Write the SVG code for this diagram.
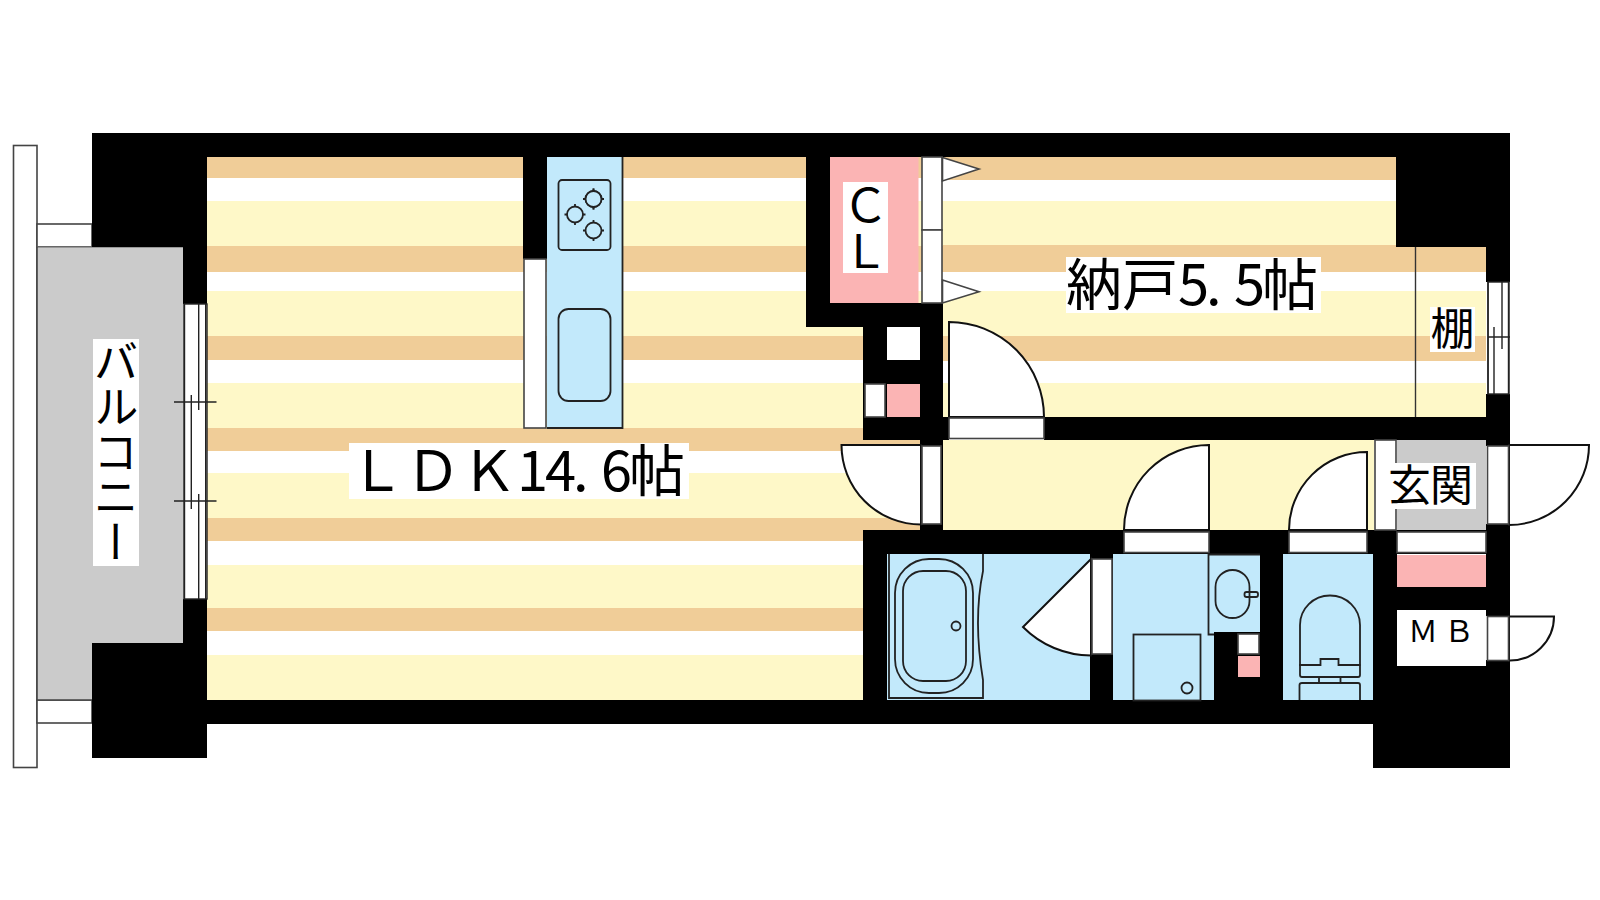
<svg xmlns="http://www.w3.org/2000/svg" width="1600" height="900" viewBox="0 0 1600 900">
<style>
.o{fill:#f0cd98}.y{fill:#fef8c8}.b{fill:#c2e9fb}.p{fill:#fbb4b4}.g{fill:#cbcbcb}.k{fill:#000}.w{fill:#fff}
.f{fill:#fff;stroke:#444;stroke-width:1.6}
.d{fill:#fff;stroke:#111;stroke-width:2}
.l{fill:none;stroke:#222;stroke-width:1.8}
.h{fill:none;stroke:#222;stroke-width:1.4}
text{font-family:"Noto Sans CJK JP","Noto Sans",sans-serif;fill:#000}
.v{writing-mode:vertical-rl}
</style>
<rect width="1600" height="900" fill="#fff"/>

<g id="floor-ldk">
<rect class="o" x="207" y="157" width="736" height="21"/>
<rect class="y" x="207" y="201" width="736" height="45"/>
<rect class="o" x="207" y="246" width="736" height="26"/>
<rect class="y" x="207" y="291" width="736" height="45"/>
<rect class="o" x="207" y="336" width="736" height="24"/>
<rect class="y" x="207" y="383" width="736" height="45"/>
<rect class="o" x="207" y="428" width="736" height="23"/>
<rect class="y" x="207" y="473" width="736" height="45"/>
<rect class="o" x="207" y="518" width="736" height="23"/>
<rect class="y" x="207" y="565" width="736" height="43"/>
<rect class="o" x="207" y="608" width="736" height="23"/>
<rect class="y" x="207" y="655" width="736" height="45"/>
</g>
<g id="floor-storage">
<rect class="w" x="943" y="157" width="543" height="260"/>
<rect class="o" x="943" y="157" width="543" height="23"/>
<rect class="y" x="943" y="201" width="543" height="44"/>
<rect class="o" x="943" y="245" width="543" height="27"/>
<rect class="y" x="943" y="291" width="543" height="45"/>
<rect class="o" x="943" y="336" width="543" height="25"/>
<rect class="y" x="943" y="383" width="543" height="34"/>
<line x1="1415.5" y1="247" x2="1415.5" y2="417" stroke="#333" stroke-width="1.4"/>
</g>
<g id="floor-hall">
<rect class="y" x="943" y="440" width="431" height="90"/>
<rect class="g" x="1397" y="440" width="89" height="90"/>
</g>
<g id="wet-rooms">
<rect class="b" x="887" y="554" width="203" height="146"/>
<rect class="b" x="1113" y="554" width="147" height="146"/>
<rect class="b" x="1283" y="554" width="90" height="146"/>
</g>

<g id="balcony">
<rect class="f" x="13.5" y="145.5" width="23.5" height="622"/>
<rect class="f" x="37" y="224" width="55" height="23"/>
<rect class="f" x="37" y="700" width="55" height="23"/>
<rect class="g" x="37" y="247" width="146" height="453"/>
<path d="M37 247H183" stroke="#666" stroke-width="1.2" fill="none"/>
<path d="M37 247V700H92" stroke="#444" stroke-width="1.6" fill="none"/>
</g>

<g id="walls" class="k">
<rect x="92" y="133" width="1418" height="24"/>
<rect x="92" y="133" width="115" height="114"/>
<rect x="183" y="133" width="24" height="171"/>
<rect x="183" y="599" width="24" height="101"/>
<rect x="92" y="643" width="115" height="115"/>
<rect x="207" y="700" width="1303" height="24"/>
<rect x="1373" y="666" width="137" height="102"/>
<rect x="523" y="157" width="24" height="102"/>
<rect x="806" y="157" width="24" height="170"/>
<rect x="806" y="303" width="137" height="24"/>
<rect x="863" y="303" width="80" height="137"/>
<rect x="863" y="417" width="86" height="23"/>
<rect x="920" y="417" width="23" height="113"/>
<rect x="1044" y="417" width="466" height="23"/>
<rect x="1396" y="133" width="114" height="114"/>
<rect x="1486" y="247" width="24" height="35"/>
<rect x="1486" y="394" width="24" height="52"/>
<rect x="863" y="530" width="647" height="24"/>
<rect x="863" y="530" width="24" height="170"/>
<rect x="1090" y="530" width="23" height="170"/>
<rect x="1214" y="632" width="69" height="68"/>
<rect x="1260" y="530" width="23" height="170"/>
<rect x="1373" y="530" width="24" height="170"/>
<rect x="1486" y="524" width="24" height="92"/>
<rect x="1486" y="660" width="24" height="40"/>
<rect x="1397" y="587" width="89" height="23"/>
</g>

<g id="window-balcony" class="h">
<rect class="w" x="184" y="304" width="23" height="295"/>
<path d="M184.5 304V599M198.7 304V410M191.3 395V509M198.7 494V599M205.7 304V599M174 402H216.500M174 501H216.500"/>
</g>
<g id="window-storage" class="h">
<rect class="w" x="1488" y="282" width="21" height="112"/>
<path d="M1488 282V394M1494 327V394M1502 282V349M1508.500 282V394M1488 337H1510"/>
</g>

<g id="kitchen">
<rect class="f" x="524" y="259" width="22" height="169"/>
<rect class="b" x="547" y="157" width="75" height="271"/>
<path class="l" d="M622.500 157V428H547" stroke-width="1.4"/>
<rect class="l" x="558.500" y="180" width="52" height="70" rx="3.500"/>
<g class="l">
<circle cx="593.500" cy="199" r="8"/><path d="M583 199h21M593.500 188.500v21"/>
</g>
<rect class="b" x="586" y="191.500" width="15" height="15" rx="7.500"/>
<g class="l">
<circle cx="575" cy="214.500" r="8"/><path d="M564.500 214.500h3M582.500 214.500h3M575 204v3M575 222v3"/>
<circle cx="593.500" cy="230.500" r="8"/><path d="M583 230.500h3M601 230.500h3M593.500 220v3M593.500 238v3M583 199h3M601 199h3M593.500 188.500v3M593.500 206.500v3"/>
<circle cx="593.500" cy="199" r="8"/>
<rect x="558.500" y="309" width="52" height="92" rx="10"/>
</g>
</g>

<g id="closet">
<rect class="p" x="830" y="157" width="88.500" height="146"/>
<rect class="f" x="922" y="157" width="20" height="73"/>
<rect class="f" x="922" y="230" width="20" height="73"/>
<path class="f" d="M942.500 157.500L979 169L942.500 181Z"/>
<path class="f" d="M942.500 280L979 291.700L942.500 303Z"/>
<rect class="w" x="843" y="182" width="45" height="91"/>
<text class="v" x="865.500" y="182" font-size="46">ＣＬ</text>
</g>

<g id="shaft">
<rect class="w" x="887" y="327" width="33" height="33"/>
<rect class="f" x="865" y="384" width="20" height="33"/>
<rect class="p" x="887" y="384" width="33" height="33"/>
</g>

<g id="door-storage">
<path class="d" d="M949 417V322A95 95 0 0 1 1044 417Z"/>
<rect class="f" x="949" y="418" width="95" height="20.500"/>
</g>
<g id="door-ldk">
<path class="d" d="M921 445H841.500A79.500 79.500 0 0 0 921 524.500Z"/>
<rect class="f" x="922" y="446" width="19" height="78"/>
</g>
<g id="door-bath">
<path class="d" d="M1091 559L1023 627A96 96 0 0 0 1091 655.500Z"/>
<rect class="f" x="1092" y="559" width="20" height="95"/>
</g>
<g id="door-wash">
<path class="d" d="M1209 530H1124A85 85 0 0 1 1209 445Z"/>
<rect class="f" x="1124" y="532" width="85" height="20.500"/>
</g>
<g id="door-toilet">
<path class="d" d="M1367 530H1289A78 78 0 0 1 1367 452Z"/>
<rect class="f" x="1289" y="532" width="78" height="20.500"/>
</g>
<g id="door-entry">
<rect class="f" x="1375" y="440" width="21" height="90"/>
<path class="d" d="M1509 445H1589A80 80 0 0 1 1509 525Z"/>
<rect class="f" x="1487.500" y="446" width="21" height="78"/>
</g>

<g id="bath">
<path class="l" stroke="#444" d="M889 554V698H983V680C978 650 975 610 983 571V554"/>
<rect class="l" x="895" y="559" width="78" height="134" rx="34"/>
<rect class="l" x="903" y="571" width="63" height="110" rx="20"/>
<circle class="l" cx="956" cy="626" r="4.500"/>
</g>

<g id="washroom">
<rect class="l" stroke="#444" x="1133.500" y="634.500" width="67" height="66"/>
<circle class="l" cx="1187" cy="688" r="5.500"/>
<path class="l" stroke="#444" d="M1260 554.500H1208.500V634.500H1214"/>
<rect class="l" x="1215.500" y="570" width="34" height="48" rx="17"/>
<rect class="l" x="1244.500" y="592" width="13.500" height="5" rx="2"/>
<rect class="f" x="1238" y="634" width="21" height="20"/>
<rect class="p" x="1238" y="656" width="22" height="21"/>
</g>

<g id="toilet" class="l">
<path d="M1300 665V625A30 29.500 0 0 1 1330 595.500A30 29.500 0 0 1 1360 625V665"/>
<path d="M1299 665H1320.500V659H1338.500V665H1360.500"/>
<path d="M1300 665V675Q1300 677 1302 677H1358Q1360 677 1360 675V665"/>
<path d="M1319 677V683M1340.500 677V683"/>
<path d="M1299.500 700V685Q1299.500 683 1302 683H1358Q1360 683 1360 685V700"/>
</g>

<g id="meter">
<rect class="p" x="1397" y="555" width="89" height="32"/>
<rect class="f" x="1397" y="532" width="89" height="20.500"/>
<rect class="w" x="1397" y="610" width="89" height="56"/>
<path class="d" d="M1509 616.500H1554A44 44 0 0 1 1509 660.500Z"/>
<rect class="f" x="1487.500" y="616.500" width="21" height="44"/>
</g>

<g id="labels">
<rect class="w" x="93" y="339" width="46" height="227"/>
<text class="v" x="116" y="339" font-size="45">バルコニー</text>
<rect class="w" x="349" y="443" width="340" height="56"/>
<text y="491" font-size="56" x="349 405 461 517 545 573 601 629">ＬＤＫ14.6帖</text>
<rect class="w" x="1066" y="257" width="255" height="56"/>
<text y="305" font-size="56" x="1066 1122 1178 1206 1234 1262">納戸5.5帖</text>
<rect class="w" x="1430" y="307" width="45" height="45"/>
<text x="1430.500" y="345" font-size="44">棚</text>
<rect class="w" x="1385" y="463" width="91" height="46"/>
<text y="501" font-size="43" x="1388 1430">玄関</text>
<text y="642" font-size="30" x="1408 1444">ＭＢ</text>
</g>
</svg>
